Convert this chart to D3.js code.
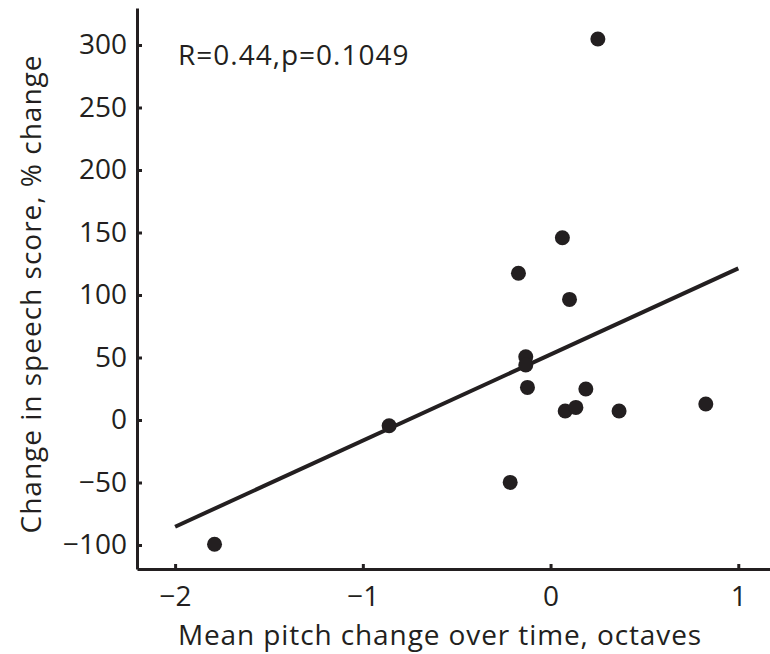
<!DOCTYPE html>
<html>
<head>
<meta charset="utf-8">
<script src="https://cdn.jsdelivr.net/npm/d3@7"></script>
<style>
  body { margin: 0; background: #fff; }
  text { font-family: "Open Sans", sans-serif; fill: #231f20; }
</style>
</head>
<body>
<div id="vis"></div>
<script>
// data
var pitchChange = [0.252, 0.063, -0.171, 0.101, -0.132, -0.132, -0.123, 0.188, 0.078, 0.135, 0.365, 0.827, -0.86, -0.215, -1.79];
var scoreChange = [304.8, 145.8, 117.4, 96.5, 50.6, 44.0, 26.1, 24.8, 7.2, 10.1, 7.2, 12.8, -4.6, -49.9, -99.4];

// fitted line end points
var fitX = [-2, 1];
var fitY = [-85.4, 121.3];

var xTicks = [-2, -1, 0, 1];
var yTicks = [-100, -50, 0, 50, 100, 150, 200, 250, 300];
var statText = "R=0.44,p=0.1049";

var width = 770;
var height = 654;
var ink = "#231f20";

var svg = d3.select("#vis").append("svg")
  .attr("width", width)
  .attr("height", height);

var x = d3.scaleLinear().domain([-2.203, 1.169]).range([137, 770]);
var y = d3.scaleLinear().domain([-119.2, 329.6]).range([569, 8]);

// axes
svg.append("g")
  .attr("transform", "translate(0,569)")
  .call(d3.axisBottom(x).tickValues(xTicks).tickSizeInner(-5).tickSizeOuter(0).tickPadding(17).tickFormat(d3.format("d")));

svg.append("g")
  .attr("transform", "translate(137,0)")
  .call(d3.axisLeft(y).tickValues(yTicks).tickSizeInner(-5).tickSizeOuter(0).tickPadding(10).tickFormat(d3.format("d")));

svg.selectAll(".domain").attr("stroke", ink).attr("stroke-width", 3);
svg.selectAll(".tick line").attr("stroke", ink).attr("stroke-width", 3);
svg.selectAll(".tick text")
  .attr("fill", ink)
  .style("font-size", "28px")
  .style("font-family", "'Open Sans', sans-serif");

// regression line
var line = d3.line()
  .x(function(d, i) { return x(fitX[i]); })
  .y(function(d) { return y(d); });

svg.append("path")
  .datum(fitY)
  .attr("d", line)
  .attr("fill", "none")
  .attr("stroke", ink)
  .attr("stroke-width", 4);

// points
svg.selectAll(".dot")
  .data(pitchChange)
  .enter().append("circle")
  .attr("class", "dot")
  .attr("cx", function(d) { return x(d); })
  .attr("cy", function(d, i) { return y(scoreChange[i]); })
  .attr("r", 7.5)
  .attr("fill", ink);

// stat label
svg.append("text")
  .attr("x", 178)
  .attr("y", 65)
  .style("font-size", "28px")
  .style("letter-spacing", "1px")
  .text(statText);

// axis titles
svg.append("text")
  .attr("x", 440)
  .attr("y", 645)
  .attr("text-anchor", "middle")
  .style("font-size", "28px")
  .style("letter-spacing", "0.9px")
  .text("Mean pitch change over time, octaves");

svg.append("text")
  .attr("transform", "translate(41,294) rotate(-90)")
  .attr("text-anchor", "middle")
  .style("font-size", "28px")
  .style("letter-spacing", "1px")
  .text("Change in speech score, % change");
</script>
</body>
</html>
